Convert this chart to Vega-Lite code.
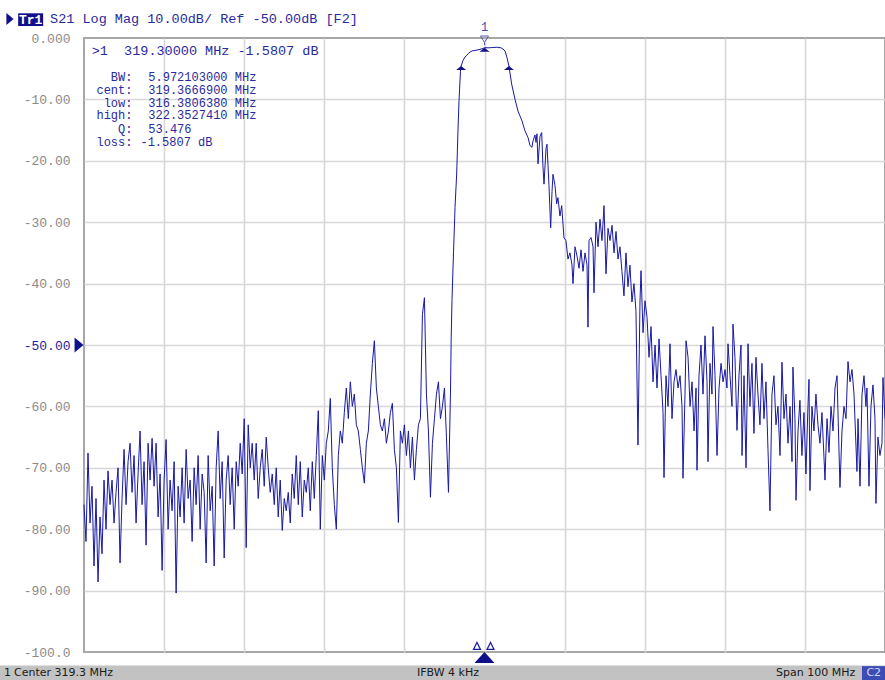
{
"$schema": "https://vega.github.io/schema/vega-lite/v6.json",
"width": 801,
"height": 614,
"autosize": {"type": "none"},
"padding": {"left": 84, "top": 38, "right": 0, "bottom": 28},
"background": "white",
"config": {"view": {"stroke": "#a6a6a6", "strokeWidth": 2}},
"datasets": {
"trace": [
{"f":269.30,"db":-76},{"f":269.55,"db":-82},{"f":269.80,"db":-67.6},{"f":270.05,"db":-79},{"f":270.30,"db":-73},{"f":270.55,"db":-86},{"f":270.80,"db":-75},{"f":271.05,"db":-88.6},{"f":271.30,"db":-78},{"f":271.55,"db":-84},
{"f":271.80,"db":-72},{"f":272.05,"db":-80},{"f":272.30,"db":-70.5},{"f":272.55,"db":-76},{"f":272.80,"db":-72},{"f":273.05,"db":-79},{"f":273.30,"db":-74},{"f":273.55,"db":-70},{"f":273.80,"db":-85.5},{"f":274.05,"db":-75},
{"f":274.30,"db":-67},{"f":274.55,"db":-76},{"f":274.80,"db":-69},{"f":275.05,"db":-66},{"f":275.30,"db":-74},{"f":275.55,"db":-68},{"f":275.80,"db":-79},{"f":276.05,"db":-71},{"f":276.30,"db":-64},{"f":276.55,"db":-76},
{"f":276.80,"db":-69},{"f":277.05,"db":-82.6},{"f":277.30,"db":-66},{"f":277.55,"db":-72},{"f":277.80,"db":-65.2},{"f":278.05,"db":-73},{"f":278.30,"db":-66},{"f":278.55,"db":-78},{"f":278.80,"db":-71},{"f":279.05,"db":-86.7},
{"f":279.30,"db":-72},{"f":279.55,"db":-65.4},{"f":279.80,"db":-80},{"f":280.05,"db":-72},{"f":280.30,"db":-77},{"f":280.55,"db":-69},{"f":280.80,"db":-90.4},{"f":281.05,"db":-73},{"f":281.30,"db":-78},{"f":281.55,"db":-70},
{"f":281.80,"db":-79},{"f":282.05,"db":-67},{"f":282.30,"db":-75},{"f":282.55,"db":-72},{"f":282.80,"db":-82},{"f":283.05,"db":-70},{"f":283.30,"db":-76},{"f":283.55,"db":-68},{"f":283.80,"db":-80},{"f":284.05,"db":-71},
{"f":284.30,"db":-74},{"f":284.55,"db":-85.5},{"f":284.80,"db":-68},{"f":285.05,"db":-77},{"f":285.30,"db":-73},{"f":285.55,"db":-86},{"f":285.80,"db":-70},{"f":286.05,"db":-64},{"f":286.30,"db":-75},{"f":286.55,"db":-69},
{"f":286.80,"db":-84.7},{"f":287.05,"db":-72},{"f":287.30,"db":-68},{"f":287.55,"db":-76},{"f":287.80,"db":-70},{"f":288.05,"db":-80},{"f":288.30,"db":-69},{"f":288.55,"db":-73},{"f":288.80,"db":-66},{"f":289.05,"db":-71},
{"f":289.30,"db":-62},{"f":289.55,"db":-83},{"f":289.80,"db":-63},{"f":290.05,"db":-70},{"f":290.30,"db":-66},{"f":290.55,"db":-72},{"f":290.80,"db":-66},{"f":291.05,"db":-75},{"f":291.30,"db":-70},{"f":291.55,"db":-67},
{"f":291.80,"db":-73},{"f":292.05,"db":-65},{"f":292.30,"db":-70},{"f":292.55,"db":-74},{"f":292.80,"db":-71},{"f":293.05,"db":-76},{"f":293.30,"db":-70},{"f":293.55,"db":-78},{"f":293.80,"db":-72},{"f":294.05,"db":-80.2},
{"f":294.30,"db":-75},{"f":294.55,"db":-77},{"f":294.80,"db":-74},{"f":295.05,"db":-79},{"f":295.30,"db":-71},{"f":295.55,"db":-75},{"f":295.80,"db":-68},{"f":296.05,"db":-76},{"f":296.30,"db":-69},{"f":296.55,"db":-78},
{"f":296.80,"db":-72},{"f":297.05,"db":-74},{"f":297.30,"db":-70},{"f":297.55,"db":-77},{"f":297.80,"db":-69},{"f":298.05,"db":-75},{"f":298.30,"db":-68},{"f":298.55,"db":-60.7},{"f":298.80,"db":-80},{"f":299.05,"db":-68},
{"f":299.30,"db":-72},{"f":299.55,"db":-66},{"f":299.80,"db":-64},{"f":300.05,"db":-58.7},{"f":300.30,"db":-70},{"f":300.55,"db":-76},{"f":300.80,"db":-80},{"f":301.05,"db":-68},{"f":301.30,"db":-64},{"f":301.55,"db":-66},
{"f":301.80,"db":-61},{"f":302.05,"db":-57},{"f":302.30,"db":-62},{"f":302.55,"db":-56},{"f":302.80,"db":-60},{"f":303.05,"db":-58},{"f":303.30,"db":-63},{"f":303.55,"db":-64},{"f":303.80,"db":-67},{"f":304.05,"db":-70},
{"f":304.30,"db":-72.5},{"f":304.55,"db":-66},{"f":304.80,"db":-64},{"f":305.05,"db":-58},{"f":305.30,"db":-53},{"f":305.55,"db":-49.3},{"f":305.80,"db":-57},{"f":306.05,"db":-60},{"f":306.30,"db":-63},{"f":306.55,"db":-64},
{"f":306.80,"db":-62},{"f":307.05,"db":-66},{"f":307.30,"db":-64},{"f":307.55,"db":-61},{"f":307.80,"db":-59.5},{"f":308.05,"db":-67},{"f":308.30,"db":-70},{"f":308.55,"db":-78.9},{"f":308.80,"db":-64},{"f":309.05,"db":-66},
{"f":309.30,"db":-63},{"f":309.55,"db":-68},{"f":309.80,"db":-64},{"f":310.05,"db":-70},{"f":310.30,"db":-65},{"f":310.55,"db":-72},{"f":310.80,"db":-67},{"f":311.05,"db":-63},{"f":311.30,"db":-62},{"f":311.55,"db":-45},
{"f":311.80,"db":-42.3},{"f":312.05,"db":-58},{"f":312.30,"db":-64},{"f":312.55,"db":-74.8},{"f":312.80,"db":-66},{"f":313.05,"db":-62},{"f":313.30,"db":-58},{"f":313.55,"db":-56},{"f":313.80,"db":-62},{"f":314.05,"db":-60},
{"f":314.30,"db":-57},{"f":314.55,"db":-65},{"f":314.80,"db":-74},{"f":315.05,"db":-58},
{"f":315.14,"db":-49},{"f":315.24,"db":-42.8},{"f":315.43,"db":-35},{"f":315.62,"db":-27.6},{"f":315.83,"db":-22},{"f":315.99,"db":-15},{"f":316.12,"db":-10.2},{"f":316.30,"db":-5.4},{"f":316.38,"db":-4.58},{"f":316.61,"db":-3.7},
{"f":316.86,"db":-3.1},{"f":317.11,"db":-2.8},{"f":317.36,"db":-2.4},{"f":317.74,"db":-2.1},{"f":318.24,"db":-2.0},{"f":318.74,"db":-1.85},{"f":319.11,"db":-1.7},{"f":319.30,"db":-1.58},{"f":319.86,"db":-1.6},{"f":320.36,"db":-1.55},
{"f":320.86,"db":-1.5},{"f":321.36,"db":-1.6},{"f":321.61,"db":-1.8},{"f":321.86,"db":-2.1},{"f":322.11,"db":-3.2},{"f":322.35,"db":-4.58},{"f":322.69,"db":-7.5},{"f":323.11,"db":-10},{"f":323.48,"db":-11.9},{"f":323.98,"db":-13.5},
{"f":324.35,"db":-15.1},{"f":324.73,"db":-16.2},{"f":324.98,"db":-17.5},{"f":325.23,"db":-17.8},{"f":325.35,"db":-16.8},{"f":325.60,"db":-15.8},{"f":325.73,"db":-17},{"f":325.85,"db":-15.6},{"f":325.98,"db":-20.5},{"f":326.23,"db":-16},
{"f":326.44,"db":-15.4},{"f":326.60,"db":-21},{"f":326.73,"db":-23.8},{"f":326.98,"db":-18},{"f":327.10,"db":-17.3},{"f":327.35,"db":-24},{"f":327.56,"db":-30.9},{"f":327.73,"db":-25},{"f":327.85,"db":-22.2},{"f":328.10,"db":-24},
{"f":328.31,"db":-27},{"f":328.47,"db":-26},{"f":328.72,"db":-29},{"f":328.94,"db":-27.3},{"f":329.22,"db":-32.5},{"f":329.47,"db":-33},{"f":329.72,"db":-36},{"f":329.97,"db":-35},{"f":330.22,"db":-37},{"f":330.35,"db":-40},
{"f":330.60,"db":-34},{"f":330.85,"db":-35.5},{"f":331.10,"db":-37.5},{"f":331.35,"db":-34.5},{"f":331.60,"db":-38},{"f":331.85,"db":-35},{"f":332.10,"db":-37},{"f":332.22,"db":-47.1},{"f":332.35,"db":-33},{"f":332.60,"db":-32.5},
{"f":332.85,"db":-34},{"f":332.97,"db":-41.5},{"f":333.22,"db":-30},{"f":333.47,"db":-34},{"f":333.72,"db":-29.5},{"f":333.97,"db":-33},{"f":334.22,"db":-27.3},{"f":334.47,"db":-38.4},{"f":334.72,"db":-31},{"f":334.97,"db":-33},
{"f":335.22,"db":-30.5},{"f":335.47,"db":-35},{"f":335.72,"db":-31.5},{"f":335.97,"db":-36},{"f":336.21,"db":-34},{"f":336.46,"db":-38},{"f":336.71,"db":-42},{"f":336.96,"db":-35},{"f":337.21,"db":-40.5},{"f":337.46,"db":-37},
{"f":337.71,"db":-43},{"f":337.96,"db":-40},{"f":338.21,"db":-44.5},{"f":338.46,"db":-66.3},{"f":338.71,"db":-43},{"f":338.84,"db":-37.9},{"f":339.09,"db":-48},{"f":339.34,"db":-42.8},{"f":339.59,"db":-45.5},{"f":339.84,"db":-52},
{"f":340.09,"db":-47},{"f":340.34,"db":-56},{"f":340.59,"db":-50},{"f":340.84,"db":-57},{"f":341.09,"db":-49},{"f":341.34,"db":-55},{"f":341.59,"db":-61},{"f":341.71,"db":-71.6},{"f":341.96,"db":-55},{"f":342.21,"db":-60},
{"f":342.46,"db":-49.8},{"f":342.71,"db":-62},{"f":342.96,"db":-56},{"f":343.21,"db":-54},{"f":343.46,"db":-57},{"f":343.71,"db":-55},{"f":343.96,"db":-60},{"f":344.08,"db":-71.7},{"f":344.33,"db":-58},{"f":344.46,"db":-49.3},
{"f":344.71,"db":-52},{"f":344.96,"db":-60},{"f":345.21,"db":-56},{"f":345.46,"db":-64},{"f":345.71,"db":-57},{"f":345.83,"db":-70.4},{"f":346.08,"db":-55},{"f":346.33,"db":-50},{"f":346.58,"db":-58},{"f":346.83,"db":-48.5},
{"f":347.08,"db":-56},{"f":347.20,"db":-69},{"f":347.45,"db":-53},{"f":347.70,"db":-58},{"f":347.83,"db":-47},{"f":348.08,"db":-55},{"f":348.33,"db":-68},{"f":348.58,"db":-57},{"f":348.83,"db":-53},{"f":349.08,"db":-56},
{"f":349.33,"db":-54},{"f":349.57,"db":-57},{"f":349.70,"db":-49.8},{"f":349.95,"db":-55},{"f":350.20,"db":-60},{"f":350.32,"db":-46.6},{"f":350.57,"db":-52},{"f":350.82,"db":-63.9},{"f":351.07,"db":-55},{"f":351.32,"db":-50},
{"f":351.45,"db":-68},{"f":351.70,"db":-55},{"f":351.95,"db":-70},{"f":352.20,"db":-49.8},{"f":352.44,"db":-60},{"f":352.69,"db":-53},{"f":352.94,"db":-64.4},{"f":353.19,"db":-52},{"f":353.44,"db":-58},{"f":353.69,"db":-63},
{"f":353.94,"db":-53},{"f":354.19,"db":-62},{"f":354.44,"db":-56},{"f":354.69,"db":-67},{"f":354.94,"db":-77},{"f":355.19,"db":-58},{"f":355.44,"db":-55},{"f":355.69,"db":-63},{"f":355.94,"db":-60},{"f":356.19,"db":-68},
{"f":356.44,"db":-52.8},{"f":356.69,"db":-62},{"f":356.94,"db":-58},{"f":357.19,"db":-66},{"f":357.44,"db":-60},{"f":357.69,"db":-69},{"f":357.81,"db":-53.6},{"f":358.06,"db":-62},{"f":358.19,"db":-75.3},{"f":358.44,"db":-64},
{"f":358.68,"db":-59},{"f":358.93,"db":-68},{"f":359.18,"db":-61},{"f":359.43,"db":-71},{"f":359.68,"db":-60},{"f":359.81,"db":-55.6},{"f":359.93,"db":-73.7},{"f":360.18,"db":-60},{"f":360.43,"db":-64},{"f":360.68,"db":-58},
{"f":360.93,"db":-63},{"f":361.18,"db":-66},{"f":361.43,"db":-61},{"f":361.81,"db":-72},{"f":362.06,"db":-62},{"f":362.31,"db":-67.5},{"f":362.56,"db":-60},{"f":362.81,"db":-64},{"f":363.06,"db":-57},{"f":363.31,"db":-55},
{"f":363.68,"db":-73.2},{"f":363.93,"db":-64},{"f":364.18,"db":-60},{"f":364.43,"db":-62},{"f":364.68,"db":-52.7},{"f":364.93,"db":-56},{"f":365.18,"db":-54},{"f":365.43,"db":-58},{"f":365.80,"db":-70.6},{"f":365.93,"db":-62},
{"f":366.18,"db":-73},{"f":366.43,"db":-58},{"f":366.68,"db":-55},{"f":366.92,"db":-60},{"f":367.05,"db":-57},{"f":367.30,"db":-73},{"f":367.55,"db":-60},{"f":367.80,"db":-56.5},{"f":368.05,"db":-62},{"f":368.17,"db":-75.8},
{"f":368.42,"db":-65},{"f":368.67,"db":-68},{"f":368.92,"db":-66},{"f":369.05,"db":-55.3},{"f":369.30,"db":-62}
],
"bwmarkers": [{"f":316.38,"db":-4.58},{"f":319.30,"db":-1.58},{"f":322.35,"db":-4.58}],
"topmarker": [{"f":319.30,"db":-0.33}],
"topmarkerlabel": [{"f":319.30,"db":1.79,"t":"1"}],
"axismarkers": [{"f":318.36,"db":-99.0},{"f":320.05,"db":-99.0}],
"axismarkerfilled": [{"f":319.30,"db":-100.9}],
"reflevel": [{"f":268.68,"db":-50}],
"readouthead": [{"f":270.26,"db":-2.04,"t":">1\u00a0\u00a0319.30000 MHz -1.5807 dB"}],
"readoutlabels": [
{"f":275.35,"db":-6.43,"t":"BW:"},
{"f":275.35,"db":-8.47,"t":"cent:"},
{"f":275.35,"db":-10.54,"t":"low:"},
{"f":275.35,"db":-12.54,"t":"high:"},
{"f":275.35,"db":-14.82,"t":"Q:"},
{"f":275.35,"db":-16.99,"t":"loss:"}
],
"readoutvalues": [
{"f":277.33,"db":-6.43,"t":"5.972103000 MHz"},
{"f":277.33,"db":-8.47,"t":"319.3666900 MHz"},
{"f":277.33,"db":-10.54,"t":"316.3806380 MHz"},
{"f":277.33,"db":-12.54,"t":"322.3527410 MHz"},
{"f":277.33,"db":-14.82,"t":"53.476"},
{"f":276.35,"db":-16.99,"t":"-1.5807 dB"}
],
"headarrow": [{"f":260.06,"db":3.09}],
"headbox": [{"f":261.08,"f2":264.2,"db":4.02,"db2":1.95}],
"headboxtext": [{"f":262.64,"db":3.0,"t":"Tr1"}],
"headtext": [{"f":265.06,"db":3.09,"t":"S21 Log Mag 10.00dB/ Ref -50.00dB [F2]"}],
"statusbar": [{"f":258.8,"f2":369.5,"db":-102.2,"db2":-104.8}],
"statusbox": [{"f":366.43,"f2":369.5,"db":-102.3,"db2":-104.8}],
"statustext": [
{"f":259.31,"db":-103.42,"t":"1"},
{"f":260.56,"db":-103.42,"t":"Center 319.3 MHz"},
{"f":310.87,"db":-103.42,"t":"IFBW 4 kHz"},
{"f":355.69,"db":-103.42,"t":"Span 100 MHz"}
],
"statusboxtext": [{"f":367.9,"db":-103.42,"t":"C2"}]
},
"encoding": {
"x": {"field": "f", "type": "quantitative",
"scale": {"domain": [269.3, 369.3], "nice": false, "zero": false},
"axis": {"values": [279.3, 289.3, 299.3, 309.3, 319.3, 329.3, 339.3, 349.3, 359.3], "labels": false, "ticks": false, "domain": false, "grid": true, "gridColor": "#d8d8d8", "gridWidth": 1.6, "title": null}},
"y": {"field": "db", "type": "quantitative",
"scale": {"domain": [-100, 0], "nice": false, "zero": false},
"axis": {"values": [0, -10, -20, -30, -40, -50, -60, -70, -80, -90, -100], "ticks": false, "domain": false, "grid": true,
"gridColor": {"condition": {"test": "datum.value == 0 || datum.value == -100", "value": "transparent"}, "value": "#d8d8d8"},
"gridWidth": 1.6, "labelPadding": 14, "labelFont": "Liberation Mono", "labelFontSize": 13,
"labelColor": {"condition": {"test": "datum.value == -50", "value": "#1c1c9c"}, "value": "#8a8a8a"},
"labelExpr": "datum.value == 0 ? '0.000' : datum.value == -100 ? '-100.0' : '-' + format(-datum.value, '.2f')",
"title": null}}
},
"layer": [
{"data": {"name": "statusbar"}, "mark": {"type": "rect", "color": "#c2c2c2"}, "encoding": {"x2": {"field": "f2"}, "y2": {"field": "db2"}}},
{"data": {"name": "statusbox"}, "mark": {"type": "rect", "color": "#3c4cb4"}, "encoding": {"x2": {"field": "f2"}, "y2": {"field": "db2"}}},
{"data": {"name": "statustext"}, "mark": {"type": "text", "align": "left", "baseline": "middle", "font": "DejaVu Sans", "fontSize": 11, "color": "#1a1a1a"}, "encoding": {"text": {"field": "t"}}},
{"data": {"name": "statusboxtext"}, "mark": {"type": "text", "align": "center", "baseline": "middle", "font": "DejaVu Sans", "fontSize": 11, "color": "#d0d8f4"}, "encoding": {"text": {"field": "t"}}},
{"data": {"name": "trace"}, "mark": {"type": "line", "color": "#1818a4", "strokeWidth": 1}, "encoding": {}},
{"data": {"name": "bwmarkers"}, "mark": {"type": "point", "shape": "M-1,0.8L1,0.8L0,0Z", "size": 100, "filled": true, "opacity": 1, "color": "#10108c"}, "encoding": {}},
{"data": {"name": "topmarker"}, "mark": {"type": "point", "shape": "M-1,-1L1,-1L0,0.6ZM0,0.6L0,1.3", "size": 64, "filled": false, "opacity": 1, "color": "#5a5ab8", "strokeWidth": 1}, "encoding": {}},
{"data": {"name": "topmarkerlabel"}, "mark": {"type": "text", "align": "center", "baseline": "middle", "font": "Liberation Mono", "fontSize": 12, "color": "#4a4aa8"}, "encoding": {"text": {"field": "t"}}},
{"data": {"name": "axismarkers"}, "mark": {"type": "point", "shape": "M-1,1L1,1L0,-1Z", "size": 49, "filled": false, "opacity": 1, "color": "#1c1ca0", "strokeWidth": 1.2}, "encoding": {}},
{"data": {"name": "axismarkerfilled"}, "mark": {"type": "point", "shape": "M-1,0.55L1,0.55L0,-0.55Z", "size": 400, "filled": true, "opacity": 1, "color": "#10108c"}, "encoding": {}},
{"data": {"name": "reflevel"}, "mark": {"type": "point", "shape": "M-0.6,-1L0.6,0L-0.6,1Z", "size": 225, "filled": true, "opacity": 1, "color": "#10108c"}, "encoding": {}},
{"data": {"name": "readouthead"}, "mark": {"type": "text", "align": "left", "baseline": "middle", "font": "Liberation Mono", "fontSize": 13.5, "color": "#2a2aa0"}, "encoding": {"text": {"field": "t"}}},
{"data": {"name": "readoutlabels"}, "mark": {"type": "text", "align": "right", "baseline": "middle", "font": "Liberation Mono", "fontSize": 12, "color": "#2a2aa0"}, "encoding": {"text": {"field": "t"}}},
{"data": {"name": "readoutvalues"}, "mark": {"type": "text", "align": "left", "baseline": "middle", "font": "Liberation Mono", "fontSize": 12, "color": "#2a2aa0"}, "encoding": {"text": {"field": "t"}}},
{"data": {"name": "headarrow"}, "mark": {"type": "point", "shape": "M-0.6,-1L0.6,0L-0.6,1Z", "size": 144, "filled": true, "opacity": 1, "color": "#10108c"}, "encoding": {}},
{"data": {"name": "headbox"}, "mark": {"type": "rect", "color": "#10108c"}, "encoding": {"x2": {"field": "f2"}, "y2": {"field": "db2"}}},
{"data": {"name": "headboxtext"}, "mark": {"type": "text", "align": "center", "baseline": "middle", "font": "Liberation Mono", "fontSize": 13, "fontWeight": "bold", "color": "white"}, "encoding": {"text": {"field": "t"}}},
{"data": {"name": "headtext"}, "mark": {"type": "text", "align": "left", "baseline": "middle", "font": "Liberation Mono", "fontSize": 13.5, "color": "#2a2aa0"}, "encoding": {"text": {"field": "t"}}}
]
}
